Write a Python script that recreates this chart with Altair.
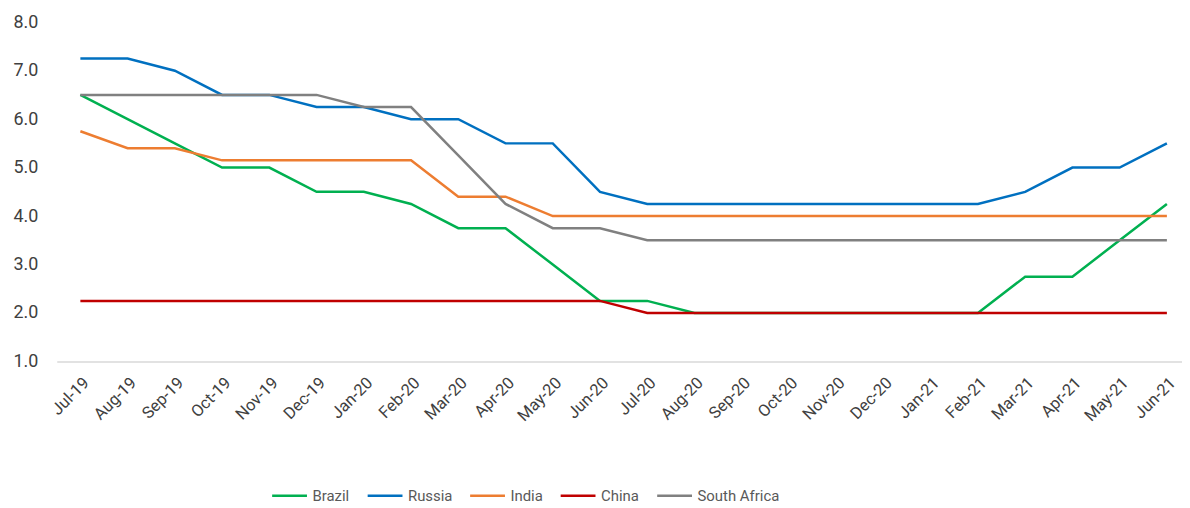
import altair as alt
import pandas as pd

months = ["Jul-19", "Aug-19", "Sep-19", "Oct-19", "Nov-19", "Dec-19", "Jan-20", "Feb-20",
          "Mar-20", "Apr-20", "May-20", "Jun-20", "Jul-20", "Aug-20", "Sep-20", "Oct-20",
          "Nov-20", "Dec-20", "Jan-21", "Feb-21", "Mar-21", "Apr-21", "May-21", "Jun-21"]

brazil = [6.5, 6.0, 5.5, 5.0, 5.0, 4.5, 4.5, 4.25, 3.75, 3.75, 3.0, 2.25,
          2.25, 2.0, 2.0, 2.0, 2.0, 2.0, 2.0, 2.0, 2.75, 2.75, 3.5, 4.25]
russia = [7.25, 7.25, 7.0, 6.5, 6.5, 6.25, 6.25, 6.0, 6.0, 5.5, 5.5, 4.5,
          4.25, 4.25, 4.25, 4.25, 4.25, 4.25, 4.25, 4.25, 4.5, 5.0, 5.0, 5.5]
india = [5.75, 5.4, 5.4, 5.15, 5.15, 5.15, 5.15, 5.15, 4.4, 4.4, 4.0, 4.0,
         4.0, 4.0, 4.0, 4.0, 4.0, 4.0, 4.0, 4.0, 4.0, 4.0, 4.0, 4.0]
china = [2.25, 2.25, 2.25, 2.25, 2.25, 2.25, 2.25, 2.25, 2.25, 2.25, 2.25, 2.25,
         2.0, 2.0, 2.0, 2.0, 2.0, 2.0, 2.0, 2.0, 2.0, 2.0, 2.0, 2.0]
south_africa = [6.5, 6.5, 6.5, 6.5, 6.5, 6.5, 6.25, 6.25, 5.25, 4.25, 3.75, 3.75,
                3.5, 3.5, 3.5, 3.5, 3.5, 3.5, 3.5, 3.5, 3.5, 3.5, 3.5, 3.5]

series_names = ["Brazil", "Russia", "India", "China", "South Africa"]
series_values = [brazil, russia, india, china, south_africa]
series_colors = ["#00b050", "#0070c0", "#ed7d31", "#c00000", "#808080"]

rows = []
for name, vals in zip(series_names, series_values):
    for i, (m, v) in enumerate(zip(months, vals)):
        rows.append({"idx": i, "month": m, "country": name, "value": v})
df = pd.DataFrame(rows)

label_expr = "[" + ",".join("'" + m + "'" for m in months) + "][datum.value]"

chart = alt.Chart(df).mark_line(strokeWidth=2.5).encode(
    x=alt.X("idx:Q",
            scale=alt.Scale(domain=[-0.5, 23.32], nice=False, zero=False),
            axis=alt.Axis(title=None, values=list(range(len(months))), labelExpr=label_expr,
                          labelAngle=-45, labelOverlap=False, ticks=False, grid=False,
                          domainColor="#d9d9d9", domainWidth=1.5, labelFontSize=16.5,
                          labelColor="#404040", labelFont="Roboto", labelPadding=13)),
    y=alt.Y("value:Q",
            scale=alt.Scale(domain=[1, 8], nice=False, zero=False),
            axis=alt.Axis(title=None, values=[1, 2, 3, 4, 5, 6, 7, 8], format=".1f",
                          ticks=False, tickSize=0, domain=False, grid=False,
                          labelFontSize=18, labelColor="#404040",
                          labelFont="Roboto", labelPadding=19)),
    color=alt.Color("country:N",
                    scale=alt.Scale(domain=series_names, range=series_colors),
                    sort=series_names,
                    legend=alt.Legend(title=None, orient="none", direction="horizontal",
                                      legendX=215, legendY=457, symbolType="stroke",
                                      symbolSize=1225, symbolStrokeWidth=2.5,
                                      labelFontSize=15, labelColor="#595959",
                                      labelFont="Roboto", labelOffset=4,
                                      columnPadding=12)),
    detail="country:N",
).properties(
    width=1131,
    height=341,
    padding={"left": 49, "top": 13, "right": 0, "bottom": 146},
    autosize=alt.AutoSizeParams(type="none"),
).configure_view(stroke=None)

chart.save("out.html", embed_options={"renderer": "svg", "actions": False})
